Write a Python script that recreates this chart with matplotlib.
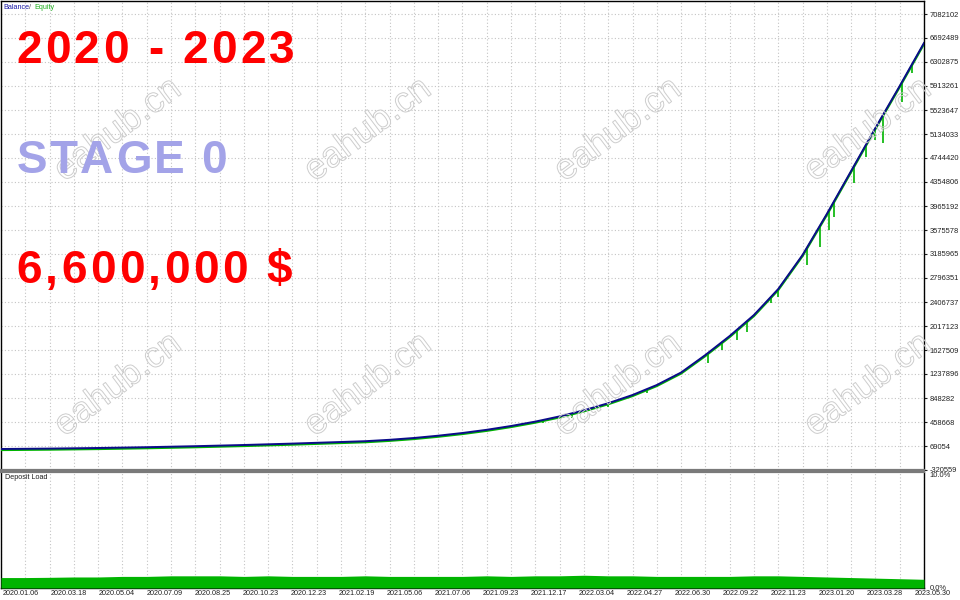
import matplotlib
matplotlib.use("Agg")
import matplotlib.pyplot as plt
import matplotlib.patheffects as pe
import matplotlib.transforms as mtransforms
from matplotlib.font_manager import FontProperties, findfont
from matplotlib.ft2font import FT2Font
import numpy as np

# balance sampled at every vertical gridline (trade index units)
balance = [20355, 23602, 26849, 31719, 36589, 43083, 49576, 57693, 65810, 75551,
           85291, 96655, 108019, 121006, 133993, 146980, 169708, 198929, 236267, 280099,
           332048, 393737, 465167, 549583, 648611, 763872, 896991, 1059331, 1262256, 1546351,
           1854797, 2195711, 2617795, 3169751, 3835345, 4533407, 5231469, 5913297, 6611359]

# equity drawdown spikes: position (index units) and low value
dip_pos = [22.3, 23.5, 25.0, 26.6, 29.1, 29.7, 30.3, 30.7, 31.7, 32.0,
           33.2, 33.7, 34.1, 34.3, 35.1, 35.6, 36.0, 36.3, 37.1, 37.5]
dip_low = [442439, 523609, 702183, 929459, 1416479, 1627521, 1790000, 1919733, 2390519, 2487923,
           3007411, 3299623, 3575601, 3786643, 4338599, 4760683, 5036661, 4987959, 5653553, 6124339]

# deposit load, percent
deposit_load = [0.9, 0.9, 0.92, 0.95, 0.95, 1.0, 1.0, 1.05, 1.05, 1.05,
                1.0, 1.05, 1.0, 1.0, 1.0, 1.05, 1.0, 1.0, 1.0, 1.0,
                1.05, 1.0, 1.05, 1.05, 1.1, 1.05, 1.05, 1.0, 1.0, 1.0,
                1.0, 1.05, 1.05, 1.0, 0.95, 0.9, 0.85, 0.8, 0.75]

ytick_vals = [-320559, 69054, 458668, 848282, 1237896, 1627509, 2017123, 2406737, 2796351,
              3185965, 3575578, 3965192, 4354806, 4744420, 5134033, 5523647, 5913261,
              6302875, 6692489, 7082102]

dates = ["2020.01.06", "2020.03.18", "2020.05.04", "2020.07.09", "2020.08.25", "2020.10.23",
         "2020.12.23", "2021.02.19", "2021.05.06", "2021.07.06", "2021.09.23", "2021.12.17",
         "2022.03.04", "2022.04.27", "2022.06.30", "2022.09.22", "2022.11.23", "2023.01.20",
         "2023.03.28", "2023.05.30"]

W, H = 960, 600
plt.rcParams["font.family"] = ["Liberation Sans", "DejaVu Sans"]


def fy(py):
    return 1 - py / H


fig = plt.figure(figsize=(9.6, 6), dpi=100)
ax = fig.add_axes([1 / W, fy(470), 923 / W, fy(1) - fy(470)])
ax2 = fig.add_axes([1 / W, fy(588), 923 / W, fy(472) - fy(588)])

idx = np.arange(len(balance))
grid_kw = dict(color="#c4c4c4", lw=0.8, ls=(0, (1, 2)))

# main panel
ax.set_xlim(0, 38)
ax.set_ylim(-320559, 7293143)
ax.set_xticks(np.arange(0, 39))
ax.set_yticks(ytick_vals)
ax.set_yticklabels([str(v) for v in ytick_vals])
ax.grid(True, **grid_kw)
ax.set_axisbelow(True)
ax.yaxis.tick_right()
ax.tick_params(axis="x", length=0, labelbottom=False)
ax.tick_params(axis="y", length=2, pad=2, labelsize=5.4, colors="#202020")
for s in ("left", "top", "right"):
    ax.spines[s].set_color("black")
    ax.spines[s].set_linewidth(1)
ax.spines["bottom"].set_color("#7a7a7a")
ax.spines["bottom"].set_linewidth(1.6)

eq_off = mtransforms.offset_copy(ax.transData, fig=fig, x=0, y=-1, units="dots")
ax.plot(idx, balance, color="#00b400", lw=1.6, transform=eq_off, zorder=3)
dip_top = np.interp(dip_pos, idx, balance)
ax.vlines(dip_pos, dip_low, dip_top, color="#00b400", lw=1.2, zorder=3)
ax.plot(idx, balance, color="#0c0c8a", lw=1.4, zorder=4)

# deposit load panel
ax2.set_xlim(0, 38)
ax2.set_ylim(0, 10)
ax2.fill_between(idx, deposit_load, 0, color="#00b400", lw=0, zorder=3)
ax2.set_xticks(np.arange(0, 39), minor=True)
ax2.set_xticks(np.arange(len(dates)) * 48.0 / 24.29 + 0.08)
ax2.set_xticklabels(dates)
ax2.grid(True, axis="x", which="minor", **grid_kw)
ax2.set_axisbelow(True)
ax2.yaxis.tick_right()
ax2.set_yticks([0, 10])
ax2.set_yticklabels(["0.0%", "10.0%"])
ax2.tick_params(axis="y", length=0, pad=4, labelsize=5.4, colors="#202020")
ax2.tick_params(axis="x", which="both", length=0, pad=1.5, labelsize=5.2, colors="#202020")
for lab in ax2.get_xticklabels():
    lab.set_horizontalalignment("left")
ylabs = ax2.get_yticklabels()
ylabs[1].set_verticalalignment("top")
for s in ("left", "bottom", "right"):
    ax2.spines[s].set_color("black")
    ax2.spines[s].set_linewidth(1)
ax2.spines["top"].set_color("#7a7a7a")
ax2.spines["top"].set_linewidth(1.6)
ax2.text(0.004, 0.985, "Deposit Load", transform=ax2.transAxes, fontsize=5.2,
         color="#202020", ha="left", va="top")

# Balance / Equity caption
fig.text(3 / W, fy(9), "Balance", fontsize=5.2, color="#1a1aa8", ha="left", va="baseline")
fig.text(29 / W, fy(9), "/", fontsize=5.2, color="#555555", ha="left", va="baseline")
fig.text(34 / W, fy(9), "Equity", fontsize=5.2, color="#1fae1f", ha="left", va="baseline")

# watermarks
for wy in (130, 385, 652):
    for wx in (118, 368, 618, 868):
        fig.text(wx / W, fy(wy), "eahub.cn", fontsize=26, rotation=37,
                 rotation_mode="anchor", ha="center", va="center",
                 color=(1, 1, 1, 0), zorder=1,
                 path_effects=[pe.Stroke(linewidth=0.7, foreground="#cdcdcd")])


def tracked(text, x0, baseline, size, color, track):
    fp = FontProperties(family="Liberation Sans", weight="bold", size=size)
    ft = FT2Font(findfont(fp))
    ft.set_size(size, 100)
    x = x0
    for ch in text:
        fig.text(x / W, fy(baseline), ch, fontproperties=fp, color=color,
                 ha="left", va="baseline", zorder=5)
        x += ft.load_char(ord(ch)).linearHoriAdvance / 65536 + track


tracked("2020 - 2023", 16, 63, 33, "#ff0000", 3.4)
tracked("STAGE 0", 17, 173, 33, "#a3a3e8", 2.3)
tracked("6,600,000 $", 16, 283, 33, "#ff0000", 3.4)

fig.savefig("out.png", dpi=100, facecolor="white")
plt.close(fig)
